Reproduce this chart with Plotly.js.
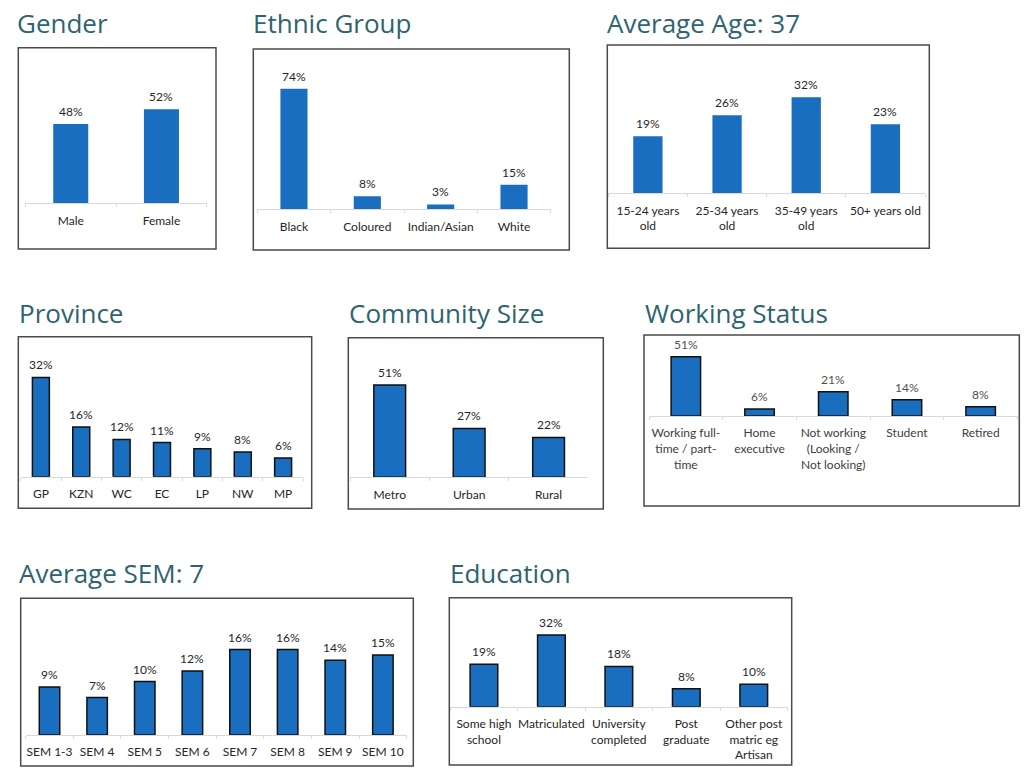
<!DOCTYPE html>
<html>
<head>
<meta charset="utf-8">
<script src="https://cdn.plot.ly/plotly-3.0.1.min.js"></script>
<style>html,body{margin:0;padding:0;background:#fff;}#chart{width:1024px;height:779px;}</style>
</head>
<body>
<div id="chart"></div>
<script>
// ---- Data ----
const genderCats = ['Male', 'Female'];
const genderVals = [48, 52];
const ethnicCats = ['Black', 'Coloured', 'Indian/Asian', 'White'];
const ethnicVals = [74, 8, 3, 15];
const ageCats = ['15-24 years<br>old', '25-34 years<br>old', '35-49 years<br>old', '50+ years old'];
const ageVals = [19, 26, 32, 23];
const provinceCats = ['GP', 'KZN', 'WC', 'EC', 'LP', 'NW', 'MP'];
const provinceVals = [32, 16, 12, 11, 9, 8, 6];
const communityCats = ['Metro', 'Urban', 'Rural'];
const communityVals = [51, 27, 22];
const workingCats = ['Working full-<br>time / part-<br>time', 'Home<br>executive', 'Not working<br>(Looking /<br>Not looking)', 'Student', 'Retired'];
const workingVals = [51, 6, 21, 14, 8];
const semCats = ['SEM 1-3', 'SEM 4', 'SEM 5', 'SEM 6', 'SEM 7', 'SEM 8', 'SEM 9', 'SEM 10'];
const semVals = [9, 7, 10, 12, 16, 16, 14, 15];
const eduCats = ['Some high<br>school', 'Matriculated', 'University<br>completed', 'Post<br>graduate', 'Other post<br>matric eg<br>Artisan'];
const eduVals = [19, 32, 18, 8, 10];
const titles = ['Gender', 'Ethnic Group', 'Average Age: 37', 'Province', 'Community Size', 'Working Status', 'Average SEM: 7', 'Education'];

// ---- Layout config (pixels in 1024x779 page) ----
const W = 1024, H = 779;
const panels = [
  {cats: genderCats, vals: genderVals, box: [18.3, 47.7, 216, 249], xd: [25.4, 206.8], axisY: 203.3, ppu: 3.675, ymin: 26.4, bw: 0.386, border: false, tx: 14.5, ty: 31.7},
  {cats: ethnicCats, vals: ethnicVals, box: [253.3, 49, 569.3, 250], xd: [257.3, 550.7], axisY: 209.3, ppu: 1.63, ymin: 0, bw: 0.37, border: false, tx: 251, ty: 31.7},
  {cats: ageCats, vals: ageVals, box: [607.3, 45, 929.3, 248.3], xd: [608.3, 925], axisY: 193.3, ppu: 3.0, ymin: 0, bw: 0.37, border: false, tx: 604.5, ty: 31.7},
  {cats: provinceCats, vals: provinceVals, box: [18.3, 336.7, 311.7, 508.3], xd: [20.7, 303.3], axisY: 476.7, ppu: 3.1, ymin: 0, bw: 0.42, border: true, tx: 16.5, ty: 321.7},
  {cats: communityCats, vals: communityVals, box: [348.3, 337.7, 603.3, 509], xd: [350, 588.3], axisY: 477.3, ppu: 1.81, ymin: 0, bw: 0.40, border: true, tx: 347, ty: 321.7},
  {cats: workingCats, vals: workingVals, box: [644, 335, 1019.3, 506], xd: [649, 1017.5], axisY: 416, ppu: 1.16, ymin: 0, bw: 0.40, border: true, tx: 643, ty: 321.7, grey: true},
  {cats: semCats, vals: semVals, box: [20.7, 598.3, 413.3, 766], xd: [25.7, 406.7], axisY: 735, ppu: 5.34, ymin: 0, bw: 0.43, border: true, tx: 17, ty: 581.7},
  {cats: eduCats, vals: eduVals, box: [449.3, 597.7, 791.7, 765], xd: [450.2, 787.5], axisY: 706.7, ppu: 2.24, ymin: 0, bw: 0.41, border: true, tx: 447.5, ty: 581.7}
];

const px = x => x / W;
const py = y => 1 - y / H;
const barColor = '#1a6ebf';
const titleColor = '#2e6370';
const labelFont = {family: 'Lato, "Open Sans", sans-serif', size: 12, color: '#262626'};

const data = [];
const layout = {
  width: W, height: H,
  margin: {l: 0, r: 0, t: 0, b: 0},
  paper_bgcolor: '#ffffff', plot_bgcolor: 'rgba(0,0,0,0)',
  showlegend: false,
  shapes: [], annotations: []
};

panels.forEach((p, i) => {
  const n = i + 1;
  const xid = n === 1 ? 'x' : 'x' + n;
  const yid = n === 1 ? 'y' : 'y' + n;
  const xkey = n === 1 ? 'xaxis' : 'xaxis' + n;
  const ykey = n === 1 ? 'yaxis' : 'yaxis' + n;
  const topY = p.box[1] + 1.5;
  const ymax = p.ymin + (p.axisY - topY) / p.ppu;
  const fcolor = p.grey ? '#404040' : '#262626';

  data.push({
    type: 'bar', x: p.cats, y: p.vals, xaxis: xid, yaxis: yid,
    width: p.bw,
    marker: {color: barColor, line: {color: p.border ? '#111111' : barColor, width: p.border ? 1.5 : 0}},
    hoverinfo: 'x+y'
  });

  layout[xkey] = {
    domain: [px(p.xd[0]), px(p.xd[1])], anchor: yid,
    type: 'category', range: [-0.5, p.cats.length - 0.5],
    showline: true, linecolor: '#d9d9d9', linewidth: 1,
    ticks: 'outside', tickson: 'boundaries', ticklen: 3, tickcolor: '#d9d9d9',
    showgrid: false, zeroline: false, tickangle: 0,
    tickfont: {family: labelFont.family, size: 12, color: fcolor},
    ticklabelstandoff: 6, fixedrange: true
  };
  layout[ykey] = {
    domain: [py(p.axisY), py(topY)], anchor: xid,
    range: [p.ymin, ymax], visible: false, fixedrange: true
  };

  p.cats.forEach((c, k) => {
    layout.annotations.push({
      xref: xid, yref: yid, x: c, y: p.vals[k],
      text: p.vals[k] + '%', showarrow: false,
      xanchor: 'center', yanchor: 'middle', yshift: 12.5,
      font: {family: labelFont.family, size: 12, color: p.grey ? '#505050' : '#262626'}
    });
  });

  layout.shapes.push({
    type: 'rect', xref: 'paper', yref: 'paper',
    x0: px(p.box[0]), x1: px(p.box[2]), y0: py(p.box[3]), y1: py(p.box[1]),
    line: {color: '#4a4a4a', width: 1.5}, fillcolor: 'rgba(0,0,0,0)', layer: 'above'
  });

  layout.annotations.push({
    xref: 'paper', yref: 'paper', x: px(p.tx), y: py(p.ty - 9),
    xanchor: 'left', yanchor: 'middle', showarrow: false,
    text: titles[i],
    font: {family: '"Open Sans", sans-serif', size: 26, color: titleColor}
  });
});

Plotly.newPlot('chart', data, layout, {staticPlot: true, displayModeBar: false});
</script>
</body>
</html>
